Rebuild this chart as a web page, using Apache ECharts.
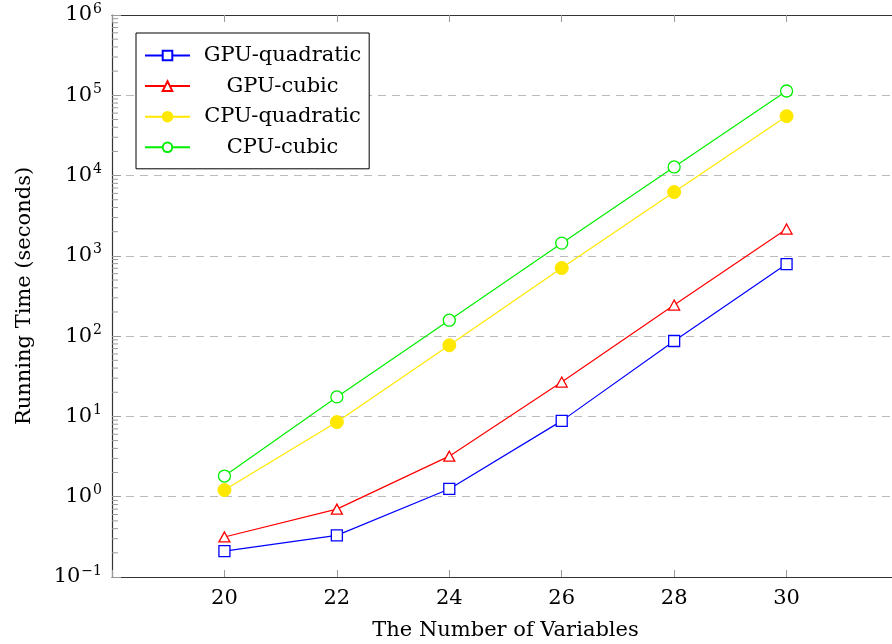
<!DOCTYPE html>
<html><head><meta charset="utf-8">
<script src="https://cdn.jsdelivr.net/npm/echarts@6/dist/echarts.min.js"></script>
<style>html,body{margin:0;padding:0;background:#fff}#c{width:892px;height:644px}</style>
</head><body><div id="c"></div>
<script>
const categories = [20, 22, 24, 26, 28, 30];
const gpuQuadratic = [0.21, 0.33, 1.25, 8.8, 87, 790];
const gpuCubic = [0.315, 0.70, 3.2, 26.8, 244, 2160];
const cpuQuadratic = [1.21, 8.5, 77, 705, 6230, 55000];
const cpuCubic = [1.81, 17.5, 158, 1440, 12800, 113000];
const seriesNames = ['GPU-quadratic', 'GPU-cubic', 'CPU-quadratic', 'CPU-cubic'];
const xTickLabels = ['20', '22', '24', '26', '28', '30'];

const FONT = 'DejaVu Serif';
const FS = 21;
const minorVals = [];
for (let e = -1; e < 6; e++) for (let k = 2; k <= 9; k++) minorVals.push([18, k * Math.pow(10, e)]);

function pts(arr) { return categories.map((c, i) => [c, arr[i]]); }

const chart = echarts.init(document.getElementById('c'), null, {renderer: 'canvas'});
const lineCommon = { type: 'line', symbolKeepAspect: true, z: 5 };
chart.setOption({
  animation: false,
  backgroundColor: '#fff',
  textStyle: { fontFamily: FONT },
  grid: { left: 112, top: 15, width: 787, height: 562, outerBoundsMode: 'none', containLabel: false },
  legend: {
    data: seriesNames,
    orient: 'vertical', left: 136, top: 33,
    padding: [12, 8, 11, 8],
    itemGap: 9.6, itemWidth: 45, itemHeight: 12,
    borderColor: '#000', borderWidth: 1, backgroundColor: '#fff',
    formatter: n => '{t|' + n + '}',
    textStyle: { fontFamily: FONT, fontSize: FS, color: '#000',
      rich: { t: { fontFamily: FONT, fontSize: FS, width: 175, align: 'center', color: '#000', height: 22 } } }
  },
  xAxis: [{
    type: 'value', min: 18, max: 32, interval: 2,
    name: 'The Number of Variables', nameLocation: 'middle', nameGap: 43,
    nameTextStyle: { fontFamily: FONT, fontSize: FS, color: '#000' },
    axisLine: { lineStyle: { color: '#333', width: 1.2 } },
    axisTick: { inside: true, length: 7, lineStyle: { color: '#999' } },
    splitLine: { show: false },
    axisLabel: { fontFamily: FONT, fontSize: FS, color: '#000', margin: 11,
      formatter: v => { const i = categories.indexOf(v); return i >= 0 ? xTickLabels[i] : ''; } }
  }, {
    type: 'value', position: 'top', min: 18, max: 32, interval: 2,
    axisLine: { lineStyle: { color: '#333', width: 1.2 } },
    axisTick: { inside: true, length: 7, lineStyle: { color: '#999' } },
    axisLabel: { show: false }, splitLine: { show: false }
  }],
  yAxis: [{
    type: 'log', logBase: 10, min: 0.1, max: 1e6,
    name: 'Running Time (seconds)', nameLocation: 'middle', nameGap: 77,
    nameTextStyle: { fontFamily: FONT, fontSize: FS, color: '#000' },
    axisLine: { show: true, lineStyle: { color: '#333', width: 1.2 } },
    axisTick: { inside: true, length: 9, lineStyle: { color: '#999' } },
    splitLine: { show: true, lineStyle: { color: '#bbb', type: [8, 6], width: 1 } },
    axisLabel: { color: '#000', margin: 10,
      formatter: v => { const e = Math.round(Math.log10(v)); return '{b|10}{s|' + (e < 0 ? '\u2212' + (-e) : e) + '}'; },
      rich: {
        b: { fontFamily: FONT, fontSize: FS, color: '#000' },
        s: { fontFamily: FONT, fontSize: 14, color: '#000', verticalAlign: 'bottom', padding: [0, 0, 12, 1] }
      } }
  }],
  series: [
    Object.assign({}, lineCommon, { name: seriesNames[0], data: pts(gpuQuadratic), symbol: 'rect', symbolSize: 11,
      itemStyle: { color: '#fff', borderColor: '#0000ff', borderWidth: 1.3 }, lineStyle: { color: '#0000ff', width: 1.2 }, color: '#0000ff' }),
    Object.assign({}, lineCommon, { name: seriesNames[1], data: pts(gpuCubic), symbol: 'triangle', symbolSize: [11, 10],
      itemStyle: { color: '#fff', borderColor: '#ff0000', borderWidth: 1.3 }, lineStyle: { color: '#ff0000', width: 1.2 }, color: '#ff0000' }),
    Object.assign({}, lineCommon, { name: seriesNames[2], data: pts(cpuQuadratic), symbol: 'circle', symbolSize: 13,
      itemStyle: { color: '#ffe800', borderColor: '#ffe800', borderWidth: 1 }, lineStyle: { color: '#ffe800', width: 1.2 }, color: '#ffe800' }),
    Object.assign({}, lineCommon, { name: seriesNames[3], data: pts(cpuCubic), symbol: 'circle', symbolSize: 12,
      itemStyle: { color: '#fff', borderColor: '#00ee00', borderWidth: 1.3 }, lineStyle: { color: '#00ee00', width: 1.2 }, color: '#00ee00' }),
    {
      type: 'custom', silent: true, z: 3, clip: false, data: minorVals,
      renderItem: (params, api) => {
        const p = api.coord([18, api.value(1)]);
        return { type: 'line', shape: { x1: p[0], y1: p[1], x2: p[0] + 6, y2: p[1] }, style: { stroke: '#999', lineWidth: 1 } };
      }
    }
  ]
});
</script></body></html>
